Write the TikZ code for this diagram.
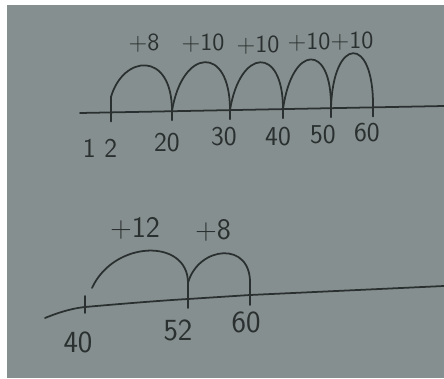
\documentclass[tikz,border=0pt]{standalone}
\usepackage{xcolor}
\usepackage{tikz}
\usetikzlibrary{positioning}

\definecolor{paper}{RGB}{134,143,143}
\definecolor{pencil}{RGB}{42,47,47}

\begin{document}
\begin{tikzpicture}[x=0.02cm, y=-0.02cm,
    line/.style={draw=pencil, line width=1pt, line cap=round, line join=round},
    jump/.style={line},
    num/.style={text=pencil, inner sep=0pt, font=\sffamily\fontsize{15.5}{15.5}\selectfont},
    bignum/.style={num, font=\sffamily\fontsize{17.5}{17.5}\selectfont},
    hop/.style={num, font=\sffamily\fontsize{14}{14}\selectfont},
    bighop/.style={num, font=\sffamily\fontsize{17}{17}\selectfont},
]
% paper
\fill[white] (0,0) rectangle (444,379);
\fill[paper] (7,5) rectangle (444,378);
\useasboundingbox (0,0) rectangle (444,379);

% first number line: 12 to 60
\coordinate (la) at (80,113);
\coordinate (lb) at (444,106);
\draw[line] (la) -- (lb);
\foreach \n/\x/\y in {12/111/112.4, 20/172/111.2, 30/230/110.1, 40/283/109.1, 50/331/108.2, 60/373/107.4}{
  \coordinate (t\n) at (\x,\y);
  \draw[line] (\x,\y-4) -- (\x,\y+9);
}
\coordinate (s12) at (111,97);
\draw[line] (s12) -- (t12);
\draw[jump] (s12) .. controls (123,55) and (172,50) .. (t20);
\draw[jump] (t20) .. controls (182,48) and (230,44) .. (t30);
\draw[jump] (t30) .. controls (240,48) and (283,45) .. (t40);
\draw[jump] (t40) .. controls (292,44) and (332,42) .. (t50);
\draw[jump] (t50) .. controls (333,36) and (374,34) .. (t60);

\node[hop] (h1) at (144,43) {+8};
\node[hop] (h2) at (203,43) {+10};
\node[hop] (h3) at (258,45) {+10};
\node[hop] (h4) at (309,42) {+10};
\node[hop] (h5) at (352,41) {+10};

\node[num] (n12) at (100,148) {1\hspace{5pt}2};
\node[num] (n20) at (167,143) {20};
\node[num] (n30) at (224,137) {30};
\node[num] (n40) at (278,137) {40};
\node[num] (n50) at (323,135) {50};
\node[num] (n60) at (367,133) {60};

% second number line: 40 to 60
\coordinate (ma) at (45,318);
\coordinate (mb) at (444,286);
\draw[line] (ma) .. controls (62,311) and (75,308) .. (85,307)
  .. controls (130,303) and (170,300) .. (188,299) -- (250,295) -- (mb);
\draw[line] (85,296) -- (85,313);
\draw[line] (188,280) -- (188,308);
\draw[line] (250,283) -- (250,305);
\coordinate (s40) at (92,288);
\coordinate (e52) at (188,283);
\coordinate (e60) at (250,285);
\draw[jump] (s40) .. controls (114,240) and (188,238) .. (e52);
\draw[jump] (e52) .. controls (198,246) and (252,240) .. (e60);

\node[bighop] (h12) at (135,228) {+12};
\node[bighop] (h8) at (213,230) {+8};

\node[bignum] (m40) at (78,342) {40};
\node[bignum] (m52) at (178,330) {52};
\node[bignum] (m60) at (246,322) {60};
\end{tikzpicture}
\end{document}
